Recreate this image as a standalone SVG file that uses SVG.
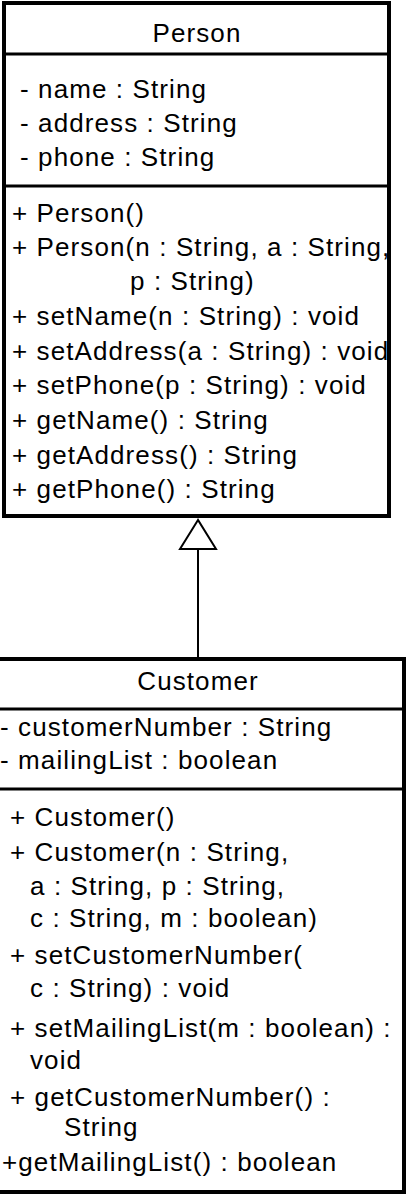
<svg xmlns="http://www.w3.org/2000/svg" width="408" height="1196" viewBox="0 0 408 1196">
<style>
text{font-family:"Liberation Sans",Arial,sans-serif;font-size:26px;letter-spacing:1.1px;fill:#000}
.b{fill:#fff;stroke:#000;stroke-width:4}
.d{stroke:#000;stroke-width:3}
.c{text-anchor:middle}
</style>
<rect width="408" height="1196" fill="#fff"/>
<g id="person">
<rect class="b" x="4" y="3" width="385" height="513"/>
<line class="d" x1="4" y1="54" x2="389" y2="54"/>
<line class="d" x1="4" y1="186" x2="389" y2="186"/>
<text class="c" x="197" y="42">Person</text>
<text x="20" y="98">- name : String</text>
<text x="20" y="132">- address : String</text>
<text x="20" y="166">- phone : String</text>
<text x="12" y="222">+ Person()</text>
<text x="12" y="256">+ Person(n : String, a : String,</text>
<text x="130" y="290">p : String)</text>
<text x="12" y="325">+ setName(n : String) : void</text>
<text x="12" y="360">+ setAddress(a : String) : void</text>
<text x="12" y="394">+ setPhone(p : String) : void</text>
<text x="12" y="429">+ getName() : String</text>
<text x="12" y="464">+ getAddress() : String</text>
<text x="12" y="498">+ getPhone() : String</text>
</g>
<g id="connectors">
<line x1="198" y1="549" x2="198" y2="658" stroke="#000" stroke-width="2"/>
<polygon points="198,520 180,549 216,549" fill="#fff" stroke="#000" stroke-width="2"/>
</g>
<g id="customer">
<rect class="b" x="-2" y="659" width="406" height="533"/>
<line class="d" x1="-2" y1="709" x2="404" y2="709"/>
<line class="d" x1="-2" y1="789" x2="404" y2="789"/>
<text class="c" x="198" y="690">Customer</text>
<text x="0" y="736">- customerNumber : String</text>
<text x="0" y="769">- mailingList : boolean</text>
<text x="10" y="826">+ Customer()</text>
<text x="10" y="861">+ Customer(n : String,</text>
<text x="30" y="895">a : String, p : String,</text>
<text x="30" y="927">c : String, m : boolean)</text>
<text x="10" y="964">+ setCustomerNumber(</text>
<text x="30" y="997">c : String) : void</text>
<text x="10" y="1037">+ setMailingList(m : boolean) :</text>
<text x="30" y="1069">void</text>
<text x="10" y="1106">+ getCustomerNumber() :</text>
<text x="64" y="1136">String</text>
<text x="2" y="1171">+getMailingList() : boolean</text>
</g>
</svg>
